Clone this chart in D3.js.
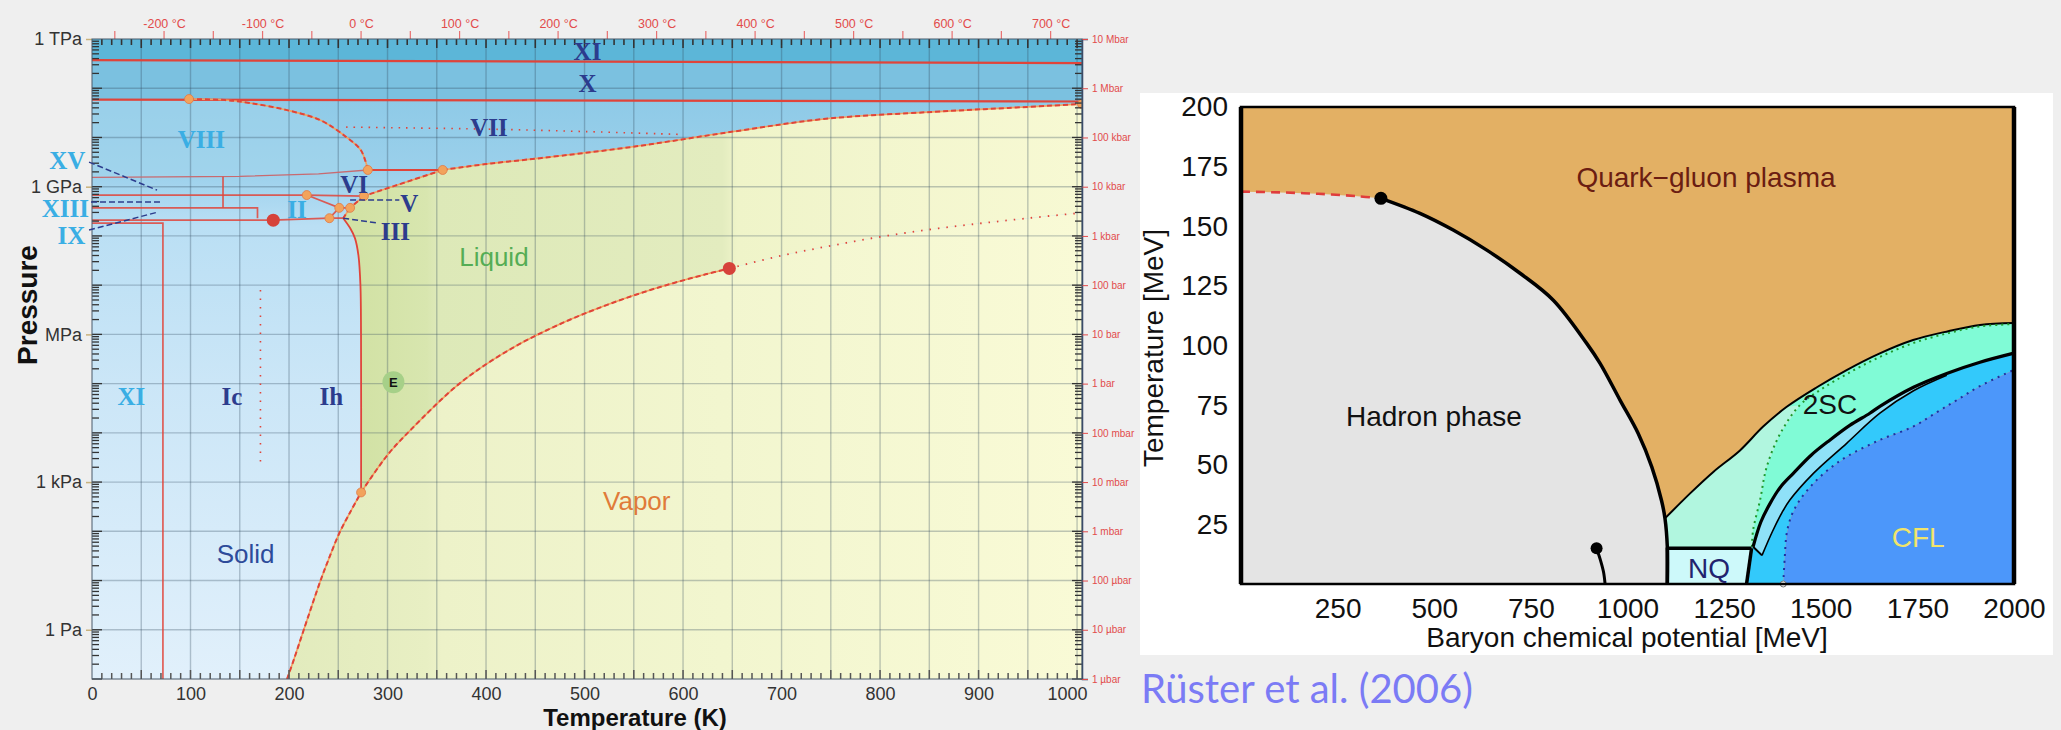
<!DOCTYPE html>
<html>
<head>
<meta charset="utf-8">
<title>Phase diagrams</title>
<script src="https://cdn.jsdelivr.net/npm/d3@7"></script>
<style>
body { margin: 0; background: #efefef; }
svg { display: block; }
</style>
</head>
<body>
<svg id="chart" width="2061" height="730"></svg>
<script>
/**
 * two phase diagrams side by side : water (left) and QCD matter (right)
 */

// ---------- water : points are [temperature K, log10 pressure Pa]
const kelvinTicks = d3.range(0, 1001, 100);
const celsiusTicks = [-200, -100, 0, 100, 200, 300, 400, 500, 600, 700];
const pascalTicks = [1e12, 1e9, 1e6, 1e3, 1];
const pascalLabels = ["1 TPa", "1 GPa", "MPa", "1 kPa", "1 Pa"];
const barExponents = d3.range(12, -2, -1);
const barLabels = ["10 Mbar", "1 Mbar", "100 kbar", "10 kbar", "1 kbar", "100 bar", "10 bar",
  "1 bar", "100 mbar", "10 mbar", "1 mbar", "100 µbar", "10 µbar", "1 µbar"];

const lineXIX = [[0, 11.57], [1005, 11.51]];
const lineXVII = [[0, 10.77], [1005, 10.73]];
const meltVII = [[356, 9.34], [400, 9.46], [455, 9.58], [549, 9.81], [651, 10.12], [745, 10.38],
  [854, 10.52], [930, 10.6], [1005, 10.68]];
const lineVIIIVII = [[98.5, 10.78], [135, 10.76], [160, 10.7], [197, 10.56], [232, 10.35],
  [258, 10.01], [273, 9.74], [280, 9.34]];
const lineVIVIII = [[0, 9.19], [150, 9.21], [230, 9.26], [280, 9.34]];
const lineVIVII = [[280, 9.34], [356, 9.34]];
const dottedVII = [[258, 10.21], [400, 10.17], [500, 10.12], [600, 10.06]];
const meltVI = [[356, 9.34], [276, 8.81]];
const meltV = [[276, 8.81], [262, 8.57]];
const meltIII = [[262, 8.57], [255, 8.36]];
const meltIh = [[255, 8.36], [262, 8.16], [267, 7.95], [270.5, 7.6], [272.5, 7.0], [273.1, 6.0], [273.16, 2.79]];
const iceLines = [
  [[0, 8.83], [218, 8.83], [276, 8.81]],
  [[0, 8.57], [168, 8.57], [168, 8.36]],
  [[0, 8.32], [184, 8.32], [241, 8.36], [255, 8.36]],
  [[0, 8.26], [72, 8.26], [72, -1]],
  [[133, 9.2], [133, 8.57]],
  [[218, 8.83], [251, 8.57], [262, 8.57]],
  [[251, 8.57], [241, 8.36]]
];
const sublimation = [[198, -1], [205, -0.6], [215, 0], [232, 1.0], [240, 1.42], [251, 1.96], [263, 2.42], [273.16, 2.79]];
const vaporization = [[273.16, 2.79], [300, 3.55], [324, 4.07], [373, 5.0], [423, 5.68], [473, 6.19],
  [523, 6.6], [573, 6.94], [623, 7.22], [647, 7.34]];
const supercritical = [[647, 7.34], [700, 7.6], [750, 7.8], [800, 7.98], [850, 8.13], [900, 8.25], [950, 8.36], [1005, 8.47]];
const dottedIc = [[171, 6.9], [171, 3.34]];
const tripleDots = [[98.5, 10.78], [280, 9.34], [356, 9.34], [218, 8.83], [276, 8.81], [251, 8.57],
  [262, 8.57], [241, 8.36], [273.16, 2.79], [1005, 10.68]];
const bigDots = [[184, 8.32], [647, 7.34]];
const leaderLines = [
  [[-3, 9.5], [66, 8.93]], [[-1, 8.69], [71, 8.69]], [[-3, 8.12], [66, 8.48]],
  [[255, 8.36], [291, 8.26]], [[262, 8.73], [312, 8.73]]
];
const iceNames = ["XI", "X", "VII", "VIII", "VI", "V", "III", "II", "XV", "XIII", "IX", "XI", "Ic", "Ih"];
const iceSpots = [[503, 11.57], [503, 10.92], [403, 10.03], [111, 9.78], [266, 8.87], [322, 8.48],
  [308, 7.91], [208, 8.36], [-25, 9.36], [-27, 8.39], [-21, 7.84], [40, 4.56], [142, 4.56], [243, 4.56]];
const stateNames = ["Liquid", "Vapor", "Solid"];
const stateSpots = [[408, 7.39], [553, 2.43], [156, 1.35]];
const spotE = [306, 5.03];

// ---------- QCD : points are [baryon chemical potential MeV, temperature MeV]
const muTicks = d3.range(250, 2001, 250);
const tempTicks = d3.range(25, 201, 25);
const crossover = [[0, 164.5], [100, 164.2], [200, 163.6], [300, 162.6], [362, 161.7]];
const hadronLine = [[362, 161.7], [463, 155.4], [549, 148.4], [636, 140], [722, 130.3], [808, 119],
  [894, 101], [929, 92.5], [981, 77], [1028, 63], [1063, 49], [1088, 35], [1097, 27.5], [1103, 15.6], [1103, 0]];
const outerLine = [[1097, 27.5], [1162, 38], [1222, 47], [1291, 56], [1351, 66], [1412, 74.3], [1490, 82.5],
  [1567, 89.7], [1650, 96.5], [1739, 102.3], [1830, 106], [1912, 108.6], [2000, 109.4]];
const greenLine = [[1322, 15.6], [1325, 22.6], [1343, 35.2], [1360, 49], [1395, 63], [1446, 75], [1500, 81.5],
  [1567, 88], [1650, 95], [1739, 101], [1830, 105.2], [1912, 108], [2000, 109]];
const lineA = [[1325, 15.6], [1345, 26], [1369, 33.8], [1395, 40.5], [1429, 46.4], [1475, 54], [1524, 60.4],
  [1575, 66.5], [1627, 71.6], [1653, 74.5], [1740, 82.5], [1826, 88.3], [1912, 93], [2000, 96.8]];
const lineB = [[1348, 12], [1375, 22], [1400, 30], [1420, 35.2], [1481, 46.4], [1567, 59], [1653, 71.6],
  [1740, 81], [1826, 87.5]];
const blueLine = [[1403, 0], [1407, 11.5], [1412, 21.3], [1425, 29], [1446, 35.2], [1481, 42.2], [1520, 48],
  [1567, 53.4], [1653, 60.4], [1739, 66], [1800, 72], [1852, 77.1], [1912, 83], [2000, 89.8]];
const nqBox = [[1103, 0], [1103, 15], [1321, 15], [1308, 0]];
const nuclearLine = [[920, 15], [930, 10], [938, 5], [942, 0]];
const criticalPoint = [362, 161.7];
const phaseNames = ["Quark−gluon plasma", "Hadron phase", "2SC", "NQ", "CFL"];
const phaseSpots = [[1203, 166.5], [499, 66.2], [1524, 71.3], [1211, 2.5], [1752, 15.5]];

const svg = d3.select("#chart");
const defs = svg.append("defs");

/** straight and smooth path makers */
function pathMaker(fx, fy, curve) {
  const l = d3.line().x(fx).y(fy);
  if (curve) l.curve(curve);
  return l;
}

/** user space gradient ; stops are [value, colour], pos maps a value to pixels */
function gradient(id, horizontal, stops, pos) {
  const p0 = pos(stops[0][0]), p1 = pos(stops[stops.length - 1][0]);
  const g = defs.append("linearGradient").attr("id", id).attr("gradientUnits", "userSpaceOnUse")
    .attr("x1", horizontal ? p0 : 0).attr("x2", horizontal ? p1 : 0)
    .attr("y1", horizontal ? 0 : p0).attr("y2", horizontal ? 0 : p1);
  stops.forEach(s => g.append("stop").attr("offset", (pos(s[0]) - p0) / (p1 - p0)).attr("stop-color", s[1]));
}

/* ======================= water phase diagram ======================= */
const xT = d3.scaleLinear().domain([0, 1005]).range([92, 1082]);
const yP = d3.scaleLog().domain([0.1, 1e12]).range([679, 39]);
const wx = d => xT(d[0]);
const wy = d => yP(Math.pow(10, d[1]));
const wLine = pathMaker(wx, wy);
const wCurve = pathMaker(wx, wy, d3.curveCatmullRom);
const lp = v => yP(Math.pow(10, v));

gradient("iceFill", false, [[10.8, "#8ecae7"], [9.3, "#9bd0eb"], [8.8, "#a9d7f0"], [8.2, "#badff4"],
  [5, "#cbe6f7"], [-1, "#e1f0fb"]], lp);
gradient("fluidFill", true, [[273, "#d2e2a5"], [340, "#d8e6af"], [350, "#dde9b8"], [640, "#e3ecbf"],
  [655, "#eff4c9"], [800, "#f3f6ce"], [1005, "#f7f9d3"]], xT);
gradient("vaporFill", true, [[198, "#e2ebbd"], [340, "#e8efc3"], [355, "#edf2c9"], [640, "#f2f6cf"],
  [1005, "#f9fad6"]], xT);

defs.append("clipPath").attr("id", "clipWater").append("rect")
  .attr("x", xT(0)).attr("y", yP(1e12)).attr("width", xT(1005) - xT(0)).attr("height", yP(0.1) - yP(1e12));

const water = svg.append("g");
const plotW = water.append("g").attr("clip-path", "url(#clipWater)");

plotW.append("rect").attr("x", xT(0)).attr("y", yP(1e12))
  .attr("width", xT(1005) - xT(0)).attr("height", yP(0.1) - yP(1e12)).attr("fill", "url(#iceFill)");
plotW.append("path").attr("fill", "#5cb6d8")
  .attr("d", wLine([[0, 12], [1005, 12]].concat(lineXIX.slice().reverse())) + "Z");
plotW.append("path").attr("fill", "#7bc1e0")
  .attr("d", wLine(lineXIX.concat(lineXVII.slice().reverse())) + "Z");
// ice VIII is a little paler than VII
plotW.append("path").attr("fill", "#a6d6ee").attr("fill-opacity", 0.45)
  .attr("d", wLine([[0, 10.77]].concat(lineVIIIVII, lineVIVIII.slice().reverse())) + "Z");

const fluidPoly = meltIh.slice().reverse()
  .concat(meltIII.slice().reverse(), meltV.slice().reverse(), meltVI.slice().reverse(), meltVII,
    supercritical.slice().reverse(), vaporization.slice().reverse());
plotW.append("path").attr("fill", "url(#fluidFill)").attr("d", wLine(fluidPoly) + "Z");
const vaporPoly = sublimation.concat(vaporization, supercritical, [[1005, -1]]);
plotW.append("path").attr("fill", "url(#vaporFill)").attr("d", wLine(vaporPoly) + "Z");

// grid
plotW.append("g").selectAll("line").data(d3.range(50, 1001, 50)).join("line")
  .attr("x1", xT).attr("x2", xT).attr("y1", yP(1e12)).attr("y2", yP(0.1))
  .attr("stroke", "#33485c").attr("stroke-opacity", 0.3).attr("stroke-width", 1.4);
plotW.append("g").selectAll("line").data(d3.range(0, 12)).join("line")
  .attr("x1", xT(0)).attr("x2", xT(1005)).attr("y1", lp).attr("y2", lp)
  .attr("stroke", "#33485c").attr("stroke-opacity", 0.3).attr("stroke-width", 1.4);

// phase boundaries
const red = "#e0443a";
function wPath(pts, opts) {
  const p = plotW.append("path").attr("fill", "none")
    .attr("d", (opts.curve ? wCurve : wLine)(pts))
    .attr("stroke", opts.color || red).attr("stroke-width", opts.width || 1.8);
  if (opts.dash) p.attr("stroke-dasharray", opts.dash);
  if (opts.opacity) p.attr("stroke-opacity", opts.opacity);
  return p;
}
wPath(lineXIX, { width: 2.2 });
wPath(lineXVII, { width: 2.2 });
wPath(lineVIVIII, { color: "#c86a70", width: 1.4 });
wPath(lineVIVII, { width: 2 });
iceLines.forEach(l => wPath(l, { width: 1.7, opacity: 0.85 }));
[meltVII, lineVIIIVII, meltVI, meltV, meltIII, sublimation, vaporization].forEach(l => {
  wPath(l, { color: "#f4a15e", width: 1.6, curve: true });
  wPath(l, { width: 2, dash: "5,3", curve: true });
});
wPath(meltIh, { width: 1.8, curve: true });
wPath(dottedVII, { width: 1.6, dash: "1.5,6", curve: true });
wPath(supercritical, { width: 1.8, dash: "1.5,7", curve: true });
wPath(dottedIc, { width: 1.6, dash: "1.5,7" });

plotW.append("g").selectAll("circle").data(tripleDots).join("circle")
  .attr("cx", wx).attr("cy", wy).attr("r", 4.5)
  .attr("fill", "#f2a35c").attr("stroke", "#e07a48").attr("stroke-width", 0.8);
plotW.append("g").selectAll("circle").data(bigDots).join("circle")
  .attr("cx", wx).attr("cy", wy).attr("r", 6.5).attr("fill", "#d6423a");

// E marker
plotW.append("circle").attr("cx", wx(spotE)).attr("cy", wy(spotE)).attr("r", 11).attr("fill", "#a6d088");
plotW.append("text").attr("x", wx(spotE)).attr("y", wy(spotE)).attr("dy", "0.36em")
  .attr("text-anchor", "middle").attr("font-family", "Liberation Sans, Arial, sans-serif")
  .attr("font-weight", "bold").attr("font-size", 13).attr("fill", "#111").text("E");

// ticks inside the frame
const tickCol = "#333";
const kTicks = d3.range(10, 1001, 10);
water.append("g").selectAll("line").data(kTicks).join("line")
  .attr("x1", xT).attr("x2", xT).attr("y1", yP(1e12)).attr("y2", d => yP(1e12) + (d % 50 ? 6 : 9))
  .attr("stroke", tickCol).attr("stroke-width", 1.6);
water.append("g").selectAll("line").data(kTicks).join("line")
  .attr("x1", xT).attr("x2", xT).attr("y1", yP(0.1)).attr("y2", d => yP(0.1) - (d % 50 ? 6 : 9))
  .attr("stroke", "#555").attr("stroke-width", 1.5);
const minorP = [];
d3.range(-1, 12).forEach(e => d3.range(1, 10).forEach(m => minorP.push([m, m * Math.pow(10, e)])));
water.append("g").selectAll("line").data(minorP).join("line")
  .attr("x1", xT(0)).attr("x2", d => xT(0) + (d[0] === 1 ? 10 : 7))
  .attr("y1", d => yP(d[1])).attr("y2", d => yP(d[1]))
  .attr("stroke", tickCol).attr("stroke-width", 1.3);
water.append("g").selectAll("line").data(minorP).join("line")
  .attr("x1", xT(1005)).attr("x2", d => xT(1005) - (d[0] === 1 ? 10 : 7))
  .attr("y1", d => yP(d[1])).attr("y2", d => yP(d[1]))
  .attr("stroke", tickCol).attr("stroke-width", 1.3);
water.append("g").selectAll("line")
  .data(d3.range(-250, 731, 50).map(c => c + 273.15)).join("line")
  .attr("x1", xT).attr("x2", xT).attr("y1", yP(1e12) - 8).attr("y2", yP(1e12))
  .attr("stroke", "#e87070").attr("stroke-width", 1.2);

// axes
const sans = "Liberation Sans, Arial, sans-serif";
const axK = water.append("g").attr("transform", `translate(0,${yP(0.1)})`)
  .call(d3.axisBottom(xT).tickValues(kelvinTicks).tickFormat(d3.format("d")).tickSize(0).tickPadding(8));
axK.attr("font-family", sans).attr("font-size", 18).attr("color", "#333");
axK.select(".domain").remove();
axK.selectAll(".tick text").filter(d => d === 1000).attr("dx", -10);

const axC = water.append("g").attr("transform", `translate(0,${yP(1e12)})`)
  .call(d3.axisTop(xT).tickValues(celsiusTicks.map(c => c + 273.15))
    .tickFormat((d, i) => celsiusTicks[i] + " °C").tickSize(0).tickPadding(11));
axC.attr("font-family", sans).attr("font-size", 12.5).attr("color", "#e24b4b");
axC.select(".domain").remove();

const axP = water.append("g").attr("transform", `translate(${xT(0)},0)`)
  .call(d3.axisLeft(yP).tickValues(pascalTicks).tickFormat((d, i) => pascalLabels[i]).tickSize(6).tickPadding(4));
axP.attr("font-family", sans).attr("font-size", 18).attr("color", "#333");
axP.selectAll(".tick line").attr("stroke", "#c9b27c").attr("stroke-width", 1.5);
axP.select(".domain").remove();

const axB = water.append("g").attr("transform", `translate(${xT(1005)},0)`)
  .call(d3.axisRight(yP).tickValues(barExponents.map(e => Math.pow(10, e)))
    .tickFormat((d, i) => barLabels[i]).tickSize(6).tickPadding(4));
axB.attr("font-family", sans).attr("font-size", 10).attr("color", "#e24b4b");
axB.select(".domain").attr("stroke", "#2a3f66").attr("stroke-width", 1.5);

water.append("rect").attr("x", xT(0)).attr("y", yP(1e12))
  .attr("width", xT(1005) - xT(0)).attr("height", yP(0.1) - yP(1e12))
  .attr("fill", "none").attr("stroke", "#4a5a6a").attr("stroke-width", 1);

water.append("text").attr("x", 635).attr("y", 726).attr("text-anchor", "middle")
  .attr("font-family", sans).attr("font-weight", "bold").attr("font-size", 24).attr("fill", "#111")
  .text("Temperature (K)");
water.append("text").attr("transform", "translate(37,305) rotate(-90)").attr("text-anchor", "middle")
  .attr("font-family", sans).attr("font-weight", "bold").attr("font-size", 28).attr("fill", "#111")
  .text("Pressure");

// labels of ices and states
const navy = "#2c3c8d", sky = "#3aaee4";
const skyNames = new Set(["VIII", "II", "XV", "XIII", "IX"]);
water.append("g").selectAll("text").data(iceNames).join("text")
  .attr("x", (d, i) => wx(iceSpots[i])).attr("y", (d, i) => wy(iceSpots[i]))
  .attr("text-anchor", "middle").attr("font-family", "Liberation Serif, DejaVu Serif, serif")
  .attr("font-weight", "bold").attr("font-size", 25)
  .attr("fill", (d, i) => (skyNames.has(d) || i === 11) ? sky : navy)
  .text(d => d);
water.append("g").selectAll("path").data(leaderLines).join("path")
  .attr("d", d => wLine(d)).attr("fill", "none").attr("stroke", navy)
  .attr("stroke-width", 1.5).attr("stroke-dasharray", "6,3");
const stateColours = ["#55ad55", "#e07b39", "#2d4b9a"];
water.append("g").selectAll("text").data(stateNames).join("text")
  .attr("x", (d, i) => wx(stateSpots[i])).attr("y", (d, i) => wy(stateSpots[i]))
  .attr("text-anchor", "middle").attr("font-family", sans).attr("font-size", 26)
  .attr("fill", (d, i) => stateColours[i]).text(d => d);

/* ======================= QCD phase diagram ======================= */
const xMu = d3.scaleLinear().domain([0, 2000]).range([1241, 2014]);
const yTm = d3.scaleLinear().domain([0, 200]).range([584, 107]);
const qx = d => xMu(d[0]);
const qy = d => yTm(d[1]);
const qLine = pathMaker(qx, qy);
const qCurve = pathMaker(qx, qy, d3.curveCatmullRom);

const qcd = svg.append("g");
qcd.append("rect").attr("x", 1140).attr("y", 93).attr("width", 913).attr("height", 562).attr("fill", "#fff");
qcd.append("rect").attr("x", xMu(0)).attr("y", yTm(200))
  .attr("width", xMu(2000) - xMu(0)).attr("height", yTm(0) - yTm(200)).attr("fill", "#e3b064");

const hadronPoly = [[0, 0]].concat(crossover, hadronLine.slice(1));
const scPoly = [[1103, 15]].concat(outerLine, lineA.slice().reverse(), [[1321, 15]]);
const lightPoly = [[1103, 15]].concat(outerLine.filter(d => d[0] <= 1412),
  greenLine.filter(d => d[0] <= 1446).reverse());
const cyanPoly = [[1308, 0], [1321, 15]].concat(lineA, blueLine.slice().reverse());
const sliverPoly = lineA.filter(d => d[0] <= 1826).concat(lineB.slice().reverse());
const cflPoly = blueLine.concat([[2000, 0]]);

[[hadronPoly, "#e4e4e4"], [scPoly, "#80fbd6"], [lightPoly, "#b1f6df"], [cyanPoly, "#33c9fb"],
  [sliverPoly, "#8fe1f8"], [cflPoly, "#4c97fa"], [nqBox, "#cdf9fa"]].forEach(p => {
  qcd.append("path").attr("d", qLine(p[0]) + "Z").attr("fill", p[1]);
});

function qPath(pts, colour, width, dash, curved) {
  const p = qcd.append("path").attr("fill", "none").attr("d", (curved ? qCurve : qLine)(pts))
    .attr("stroke", colour).attr("stroke-width", width).attr("stroke-linejoin", "round");
  if (dash) p.attr("stroke-dasharray", dash);
}
qPath(crossover, "#e03c3c", 2.6, "9,6", true);
qPath(hadronLine, "#000", 3.5, null, true);
qPath(outerLine, "#000", 2, null, true);
qPath(greenLine, "#1f9a2c", 2, "2,4", true);
qPath(lineB, "#000", 1.6, null, true);
qPath(lineA, "#000", 3.2, null, true);
qPath([lineA[0], lineB[0]], "#000", 2, null, false);
qPath(blueLine, "#1f2fa0", 2, "2,5", true);
qPath(nqBox.slice(0, 3), "#000", 3.5, null, false);
qPath(nqBox.slice(2), "#000", 3.5, null, false);
qPath(nuclearLine, "#000", 3, null, true);

qcd.append("circle").attr("cx", qx(nuclearLine[0])).attr("cy", qy(nuclearLine[0])).attr("r", 6).attr("fill", "#000");
qcd.append("circle").attr("cx", qx(criticalPoint)).attr("cy", qy(criticalPoint)).attr("r", 6.5).attr("fill", "#000");
qcd.append("circle").attr("cx", qx(blueLine[0])).attr("cy", qy(blueLine[0])).attr("r", 3)
  .attr("fill", "#fff").attr("stroke", "#777").attr("stroke-width", 1);

// frame
qcd.append("rect").attr("x", xMu(0)).attr("y", yTm(200))
  .attr("width", xMu(2000) - xMu(0)).attr("height", yTm(0) - yTm(200))
  .attr("fill", "none").attr("stroke", "#000").attr("stroke-width", 2.5);
[0, 2000].forEach(m => qcd.append("line").attr("x1", xMu(m)).attr("x2", xMu(m))
  .attr("y1", yTm(200)).attr("y2", yTm(0)).attr("stroke", "#000").attr("stroke-width", 4.5));

const phaseColours = ["#6b1d12", "#111", "#111", "#22236e", "#f1e46a"];
qcd.append("g").selectAll("text").data(phaseNames).join("text")
  .attr("x", (d, i) => qx(phaseSpots[i])).attr("y", (d, i) => qy(phaseSpots[i]))
  .attr("text-anchor", "middle").attr("font-family", sans).attr("font-size", 28)
  .attr("fill", (d, i) => phaseColours[i]).text(d => d);

const axMu = qcd.append("g").attr("transform", `translate(0,${yTm(0)})`)
  .call(d3.axisBottom(xMu).tickValues(muTicks).tickFormat(d3.format("d")).tickSize(0).tickPadding(14));
axMu.attr("font-family", sans).attr("font-size", 28).attr("color", "#111");
axMu.select(".domain").remove();
const axTm = qcd.append("g").attr("transform", `translate(${xMu(0)},0)`)
  .call(d3.axisLeft(yTm).tickValues(tempTicks).tickFormat(d3.format("d")).tickSize(0).tickPadding(13));
axTm.attr("font-family", sans).attr("font-size", 28).attr("color", "#111");
axTm.select(".domain").remove();

qcd.append("text").attr("x", 1627).attr("y", 647).attr("text-anchor", "middle")
  .attr("font-family", sans).attr("font-size", 28).attr("fill", "#111")
  .text("Baryon chemical potential [MeV]");
qcd.append("text").attr("transform", "translate(1163,348) rotate(-90)").attr("text-anchor", "middle")
  .attr("font-family", sans).attr("font-size", 28).attr("fill", "#111")
  .text("Temperature [MeV]");
svg.append("text").attr("x", 1141).attr("y", 703)
  .attr("font-family", "Lato, 'Open Sans', sans-serif").attr("font-size", 40).attr("fill", "#7b7bf5")
  .text("Rüster et al. (2006)");
</script>
</body>
</html>
